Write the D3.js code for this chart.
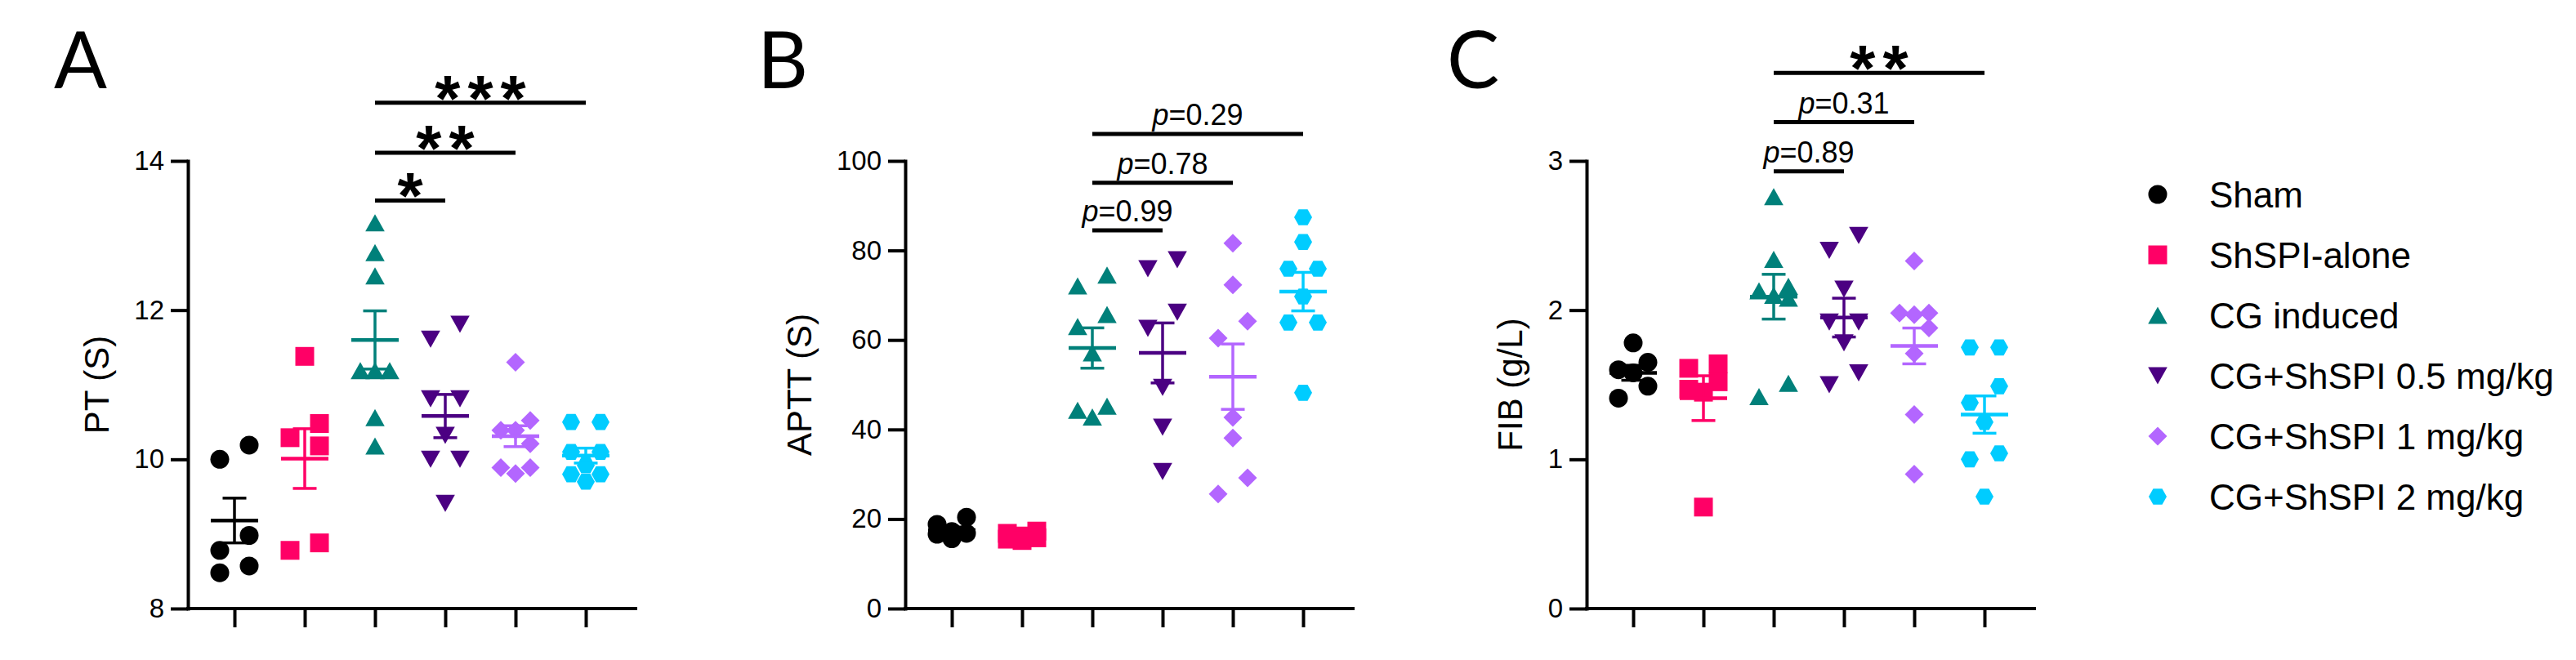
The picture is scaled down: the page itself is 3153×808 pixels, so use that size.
<!DOCTYPE html>
<html>
<head>
<meta charset="utf-8">
<script src="https://cdn.jsdelivr.net/npm/d3@7"></script>
<style>
  body { margin: 0; background: #fff; }
  svg { display: block; }
</style>
</head>
<body>
<svg id="chart" width="3153" height="808"></svg>
<script>
// ---------------- DATA ----------------
const groups = ["Sham", "ShSPI-alone", "CG induced", "CG+ShSPI 0.5 mg/kg", "CG+ShSPI 1 mg/kg", "CG+ShSPI 2 mg/kg"];

// Panel A: PT (S)
const ptSham  = [10.19, 10.00, 8.98, 8.78, 8.57, 8.48];
const ptShSPI = [11.38, 10.48, 10.29, 10.18, 8.88, 8.78];
const ptCG    = [13.17, 12.77, 12.46, 11.19, 11.19, 11.19, 10.56, 10.18];
const ptCG05  = [11.81, 11.61, 10.81, 10.81, 10.32, 10.00, 10.00, 9.41];
const ptCG1   = [11.30, 10.52, 10.39, 10.39, 10.21, 9.89, 9.89, 9.81];
const ptCG2   = [10.50, 10.50, 10.10, 10.10, 9.92, 9.80, 9.80, 9.70];
const ptMean  = [9.18, 10.01, 11.60, 10.58, 10.31, 10.05];
const ptSem   = [0.30, 0.40, 0.39, 0.29, 0.14, 0.10];
const ptTicks = [8, 10, 12, 14];
const ptComparisons = [[2, 3, "*"], [2, 4, "**"], [2, 5, "***"]];
const ptCompHeights = [13.47, 14.11, 14.78];

// Panel B: APTT (S)
const apttSham  = [20.4, 18.8, 17.2, 16.8, 16.6, 15.6];
const apttShSPI = [17.3, 16.8, 16.2, 15.8, 15.5, 15.2];
const apttCG    = [74.5, 72.1, 65.7, 63.0, 57.1, 45.2, 44.3, 42.8];
const apttCG05  = [77.9, 75.9, 66.2, 62.6, 49.4, 40.5, 30.6];
const apttCG1   = [81.6, 72.3, 64.2, 60.4, 42.7, 38.1, 29.2, 25.6];
const apttCG2   = [87.4, 81.9, 75.9, 75.9, 69.7, 63.9, 63.9, 48.2];
const apttMean  = [17.5, 16.1, 58.2, 57.1, 51.8, 70.8];
const apttSem   = [0.7, 0.35, 4.5, 6.7, 7.3, 4.3];
const apttTicks = [0, 20, 40, 60, 80, 100];
const apttComparisons = [[2, 3, "0.99"], [2, 4, "0.78"], [2, 5, "0.29"]];
const apttCompHeights = [84.5, 95.1, 106.0];

// Panel C: FIB (g/L)
const fibSham  = [1.78, 1.65, 1.60, 1.58, 1.49, 1.41];
const fibShSPI = [1.64, 1.61, 1.52, 1.47, 1.45, 0.68];
const fibCG    = [2.76, 2.34, 2.16, 2.13, 2.10, 2.08, 1.51, 1.42];
const fibCG05  = [2.50, 2.40, 2.14, 1.92, 1.92, 1.78, 1.58, 1.50];
const fibCG1   = [2.33, 1.98, 1.98, 1.97, 1.88, 1.71, 1.30, 0.90];
const fibCG2   = [1.75, 1.75, 1.49, 1.38, 1.25, 1.04, 1.00, 0.75];
const fibMean  = [1.58, 1.41, 2.09, 1.95, 1.76, 1.30];
const fibSem   = [0.05, 0.15, 0.15, 0.13, 0.12, 0.125];
const fibTicks = [0, 1, 2, 3];
const fibComparisons = [[2, 3, "0.89"], [2, 4, "0.31"], [2, 5, "**"]];
const fibCompHeights = [2.93, 3.26, 3.59];

// ---------------- STYLE / LAYOUT ----------------
const colors = ["#000000", "#FF0066", "#00807A", "#4B0082", "#B366FF", "#00CCFF"];
const shapes = ["circle", "square", "triUp", "triDown", "diamond", "hexagon"];
const FONT = "'Liberation Sans', Arial, Helvetica, sans-serif";
const TOP = 197, BOTTOM = 745, PLOT_W = 548;

const panels = [
  { letter: "A", axisX: 230, letterX: 66, title: "PT (S)", domain: [8, 14], ticks: ptTicks,
    series: [ptSham, ptShSPI, ptCG, ptCG05, ptCG1, ptCG2], mean: ptMean, sem: ptSem,
    comps: ptComparisons, heights: ptCompHeights },
  { letter: "B", axisX: 1108, letterX: 927, title: "APTT (S)", domain: [0, 100], ticks: apttTicks,
    series: [apttSham, apttShSPI, apttCG, apttCG05, apttCG1, apttCG2], mean: apttMean, sem: apttSem,
    comps: apttComparisons, heights: apttCompHeights },
  { letter: "C", axisX: 1942, letterX: 1771, title: "FIB (g/L)", domain: [0, 3], ticks: fibTicks,
    series: [fibSham, fibShSPI, fibCG, fibCG05, fibCG1, fibCG2], mean: fibMean, sem: fibSem,
    comps: fibComparisons, heights: fibCompHeights }
];

function shapePath(kind) {
  switch (kind) {
    case "circle": { const r = 11.5; return `M${-r},0A${r},${r} 0 1,0 ${r},0A${r},${r} 0 1,0 ${-r},0Z`; }
    case "square": { const h = 11.5; return `M${-h},${-h}H${h}V${h}H${-h}Z`; }
    case "triUp":   return "M0,-10.5L11.8,10.5L-11.8,10.5Z";
    case "triDown": return "M0,10.5L11.8,-10.5L-11.8,-10.5Z";
    case "diamond": return "M0,-11.5L11.5,0L0,11.5L-11.5,0Z";
    case "hexagon": return "M-11,0L-5.5,-9.8L5.5,-9.8L11,0L5.5,9.8L-5.5,9.8Z";
  }
}

// deterministic column scatter in pixel space, spread limited to +/- s
function swarm(pys, D = 21, s = 18) {
  const pts = pys.map((py, i) => ({ py, i, dx: 0 }));
  const sorted = [...pts].sort((a, b) => a.py - b.py);
  const placed = [];
  let sign = 1;
  sorted.forEach((p, k) => {
    const prev = sorted[k - 1], next = sorted[k + 1];
    const nearPrev = prev && (p.py - prev.py) < D;
    const nearNext = next && (next.py - p.py) < D;
    if (!nearPrev) sign = 1;
    if (!nearPrev && !nearNext) { p.dx = 0; }
    else {
      const cands = [sign * s, -sign * s, 0];
      let best = null, bestScore = -1;
      for (const c of cands) {
        const clash = placed.filter(q => Math.abs(q.dx - c) < s * 0.9 && Math.abs(q.py - p.py) < D);
        if (clash.length === 0) { best = c; break; }
        const score = d3.min(clash, q => Math.abs(q.py - p.py) + Math.abs(q.dx - c));
        if (score > bestScore) { bestScore = score; best = c; }
      }
      p.dx = best;
      if (p.dx !== 0) sign = -Math.sign(p.dx);
    }
    placed.push(p);
  });
  return pts.map(p => p.dx);
}

const svg = d3.select("#chart");
svg.append("rect").attr("width", 3153).attr("height", 808).attr("fill", "#fff");

panels.forEach(p => {
  const g = svg.append("g");
  const y = d3.scaleLinear().domain(p.domain).range([BOTTOM, TOP]);
  const x = d3.scalePoint().domain(groups).range([p.axisX + 57, p.axisX + 487]);

  // panel letter
  g.append("text").attr("x", p.letterX).attr("y", 108)
    .attr("font-family", "Lato, 'Open Sans', sans-serif").attr("font-size", 96).text(p.letter);

  // y axis
  const ya = g.append("g").attr("transform", `translate(${p.axisX},0)`)
    .call(d3.axisLeft(y).tickValues(p.ticks).tickSize(21).tickSizeOuter(0).tickPadding(8).tickFormat(d3.format("d")));
  ya.select(".domain").attr("stroke-width", 4).attr("stroke-linecap", "square");
  ya.selectAll(".tick line").attr("stroke-width", 4);
  ya.selectAll(".tick text").attr("font-size", 33).attr("font-family", FONT).attr("fill", "#000");
  const bb = ya.node().getBBox();
  g.append("text")
    .attr("transform", `translate(${p.axisX + bb.x - 46},${(TOP + BOTTOM) / 2}) rotate(-90)`)
    .attr("text-anchor", "middle").attr("dy", "0.35em")
    .attr("font-family", FONT).attr("font-size", 42).text(p.title);

  // x axis
  g.append("line").attr("x1", p.axisX).attr("x2", p.axisX + PLOT_W)
    .attr("y1", BOTTOM).attr("y2", BOTTOM)
    .attr("stroke", "#000").attr("stroke-width", 4).attr("stroke-linecap", "square");
  const xa = g.append("g").attr("transform", `translate(0,${BOTTOM})`)
    .call(d3.axisBottom(x).tickSize(23).tickFormat(""));
  xa.select(".domain").remove();
  xa.selectAll(".tick line").attr("stroke-width", 4);

  // points
  p.series.forEach((vals, gi) => {
    const pys = vals.map(v => y(v));
    const dxs = swarm(pys);
    g.append("g").selectAll("path").data(vals).join("path")
      .attr("d", shapePath(shapes[gi]))
      .attr("transform", (v, i) => `translate(${x(groups[gi]) + dxs[i]},${y(v)})`)
      .attr("fill", colors[gi]);
  });

  // mean ± SEM
  groups.forEach((grp, gi) => {
    const cx = x(grp), m = p.mean[gi], e = p.sem[gi], col = colors[gi];
    const eg = g.append("g").attr("stroke", col).attr("fill", "none");
    eg.append("line").attr("x1", cx).attr("x2", cx).attr("y1", y(m - e)).attr("y2", y(m + e)).attr("stroke-width", 3.5);
    [m - e, m + e].forEach(v => {
      eg.append("line").attr("x1", cx - 14.5).attr("x2", cx + 14.5).attr("y1", y(v)).attr("y2", y(v)).attr("stroke-width", 3.5);
    });
    eg.append("line").attr("x1", cx - 29).attr("x2", cx + 29).attr("y1", y(m)).attr("y2", y(m)).attr("stroke-width", 4.5);
  });

  // comparisons
  p.comps.forEach((c, ci) => {
    const x1 = x(groups[c[0]]), x2 = x(groups[c[1]]), ly = y(p.heights[ci]);
    g.append("line").attr("x1", x1).attr("x2", x2).attr("y1", ly).attr("y2", ly)
      .attr("stroke", "#000").attr("stroke-width", 5);
    const cxm = (x1 + x2) / 2;
    if (c[2].startsWith("*")) {
      g.append("text").attr("x", cxm + 4.5).attr("y", ly + 22)
        .attr("text-anchor", "middle").attr("font-family", FONT).attr("font-weight", "bold")
        .attr("font-size", 80).attr("letter-spacing", 9).text(c[2]);
    } else {
      const t = g.append("text").attr("x", cxm).attr("y", ly - 11)
        .attr("text-anchor", "middle").attr("font-family", FONT).attr("font-size", 36);
      t.append("tspan").attr("font-style", "italic").text("p");
      t.append("tspan").text("=" + c[2]);
    }
  });
});

// legend
const lg = svg.append("g");
groups.forEach((grp, gi) => {
  const ly = 238 + gi * 74;
  lg.append("path").attr("d", shapePath(shapes[gi])).attr("transform", `translate(2641,${ly})`).attr("fill", colors[gi]);
  lg.append("text").attr("x", 2704).attr("y", ly).attr("dy", "0.36em")
    .attr("font-family", FONT).attr("font-size", 44).text(grp);
});
</script>
</body>
</html>
